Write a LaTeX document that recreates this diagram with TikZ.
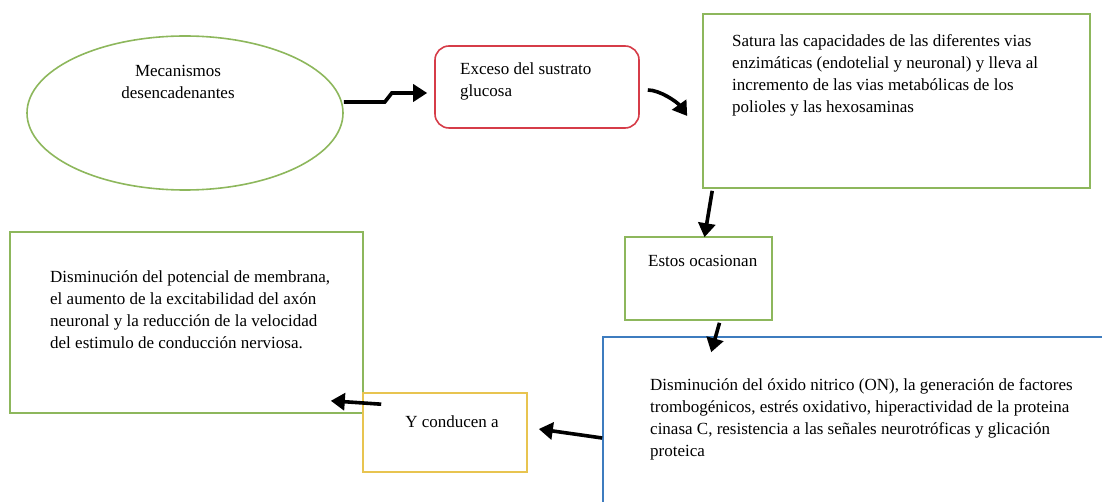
\documentclass[tikz,border=0pt]{standalone}
\usepackage{fontspec}
\setmainfont{Liberation Serif}
\usetikzlibrary{shapes.geometric,arrows.meta}

\begin{document}
\begin{tikzpicture}[x=1pt,y=-1pt,
  caja/.style={rectangle,draw=#1,line width=1.6pt,fill=white,inner sep=0pt},
  texto/.style={anchor=north west,inner sep=0pt,align=left,font=\fontsize{17}{22}\selectfont},
  flecha/.style={line width=3.6pt,-{Triangle[length=14pt,width=17pt]}}]
%\draw[gray] (0,0) grid[step=50] (1102,502);

\definecolor{verde}{RGB}{141,183,92}
\definecolor{rojo}{RGB}{214,60,72}
\definecolor{azul}{RGB}{62,124,191}
\definecolor{amarillo}{RGB}{232,196,80}

\useasboundingbox (0,0) rectangle (1102,502);
\clip (0,0) rectangle (1102,502);

% Cajas
\node[ellipse,draw=verde,line width=1.6pt,minimum width=316pt,minimum height=154pt] (mecanismos) at (185,113) {};
\node[caja=rojo,rounded corners=14pt,minimum width=204pt,minimum height=82pt] (exceso) at (537,87) {};
\node[caja=verde,minimum width=387pt,minimum height=174pt] (satura) at (896.5,101) {};
\node[caja=verde,minimum width=147pt,minimum height=83pt] (estos) at (698.5,278.5) {};
\node[caja=azul,minimum width=512pt,minimum height=178pt] (efectos) at (859,426) {};
\node[caja=verde,minimum width=353pt,minimum height=181pt] (disminucion) at (186.5,322.5) {};
\node[caja=amarillo,minimum width=164pt,minimum height=79pt] (conducen) at (445,432.5) {};

% Textos
\node[texto,anchor=center,align=center] (mecanismos-txt) at (178,82) {Mecanismos\\desencadenantes};
\node[texto] (exceso-txt) at (460,63) {Exceso del sustrato\\glucosa};
\node[texto] (satura-txt) at (732,34) {Satura las capacidades de las diferentes vias\\enzimáticas (endotelial y neuronal) y lleva al\\incremento de las vias metabólicas de los\\polioles y las hexosaminas};
\node[texto] (estos-txt) at (648,255) {Estos ocasionan};
\node[texto] (efectos-txt) at (650,378) {Disminución del óxido nitrico (ON), la generación de factores\\trombogénicos, estrés oxidativo, hiperactividad de la proteina\\cinasa C, resistencia a las señales neurotróficas y glicación\\proteica};
\node[texto] (disminucion-txt) at (50,270) {Disminución del potencial de membrana,\\el aumento de la excitabilidad del axón\\neuronal y la reducción de la velocidad\\del estimulo de conducción nerviosa.};
\node[texto,anchor=center] (conducen-txt) at (452,422) {Y conducen a};

% Flechas
\draw[flecha] ([yshift=11pt]mecanismos.east) -- ++(41,0) -- ++(7,-9) -- ([xshift=-7pt,yshift=-6pt]exceso.west);
\draw[flecha] ([xshift=8pt,yshift=-3pt]exceso.east) .. controls +(12,0) and +(-10,-14) .. ([xshift=-15pt,yshift=-15pt]satura.west);
\draw[flecha] ([xshift=10pt,yshift=-2pt]satura.south west) -- ([xshift=6pt,yshift=-1pt]estos.north);
\draw[flecha] ([xshift=21pt,yshift=-2pt]estos.south) -- ([xshift=109pt,yshift=-16pt]efectos.north west);
\draw[flecha] ([yshift=-12pt]efectos.west) -- ([xshift=11pt,yshift=3.5pt]conducen.east);
\draw[flecha] ([xshift=19pt,yshift=-12pt]conducen.north west) -- ([xshift=-33pt,yshift=13pt]disminucion.south east);

\end{tikzpicture}
\end{document}
